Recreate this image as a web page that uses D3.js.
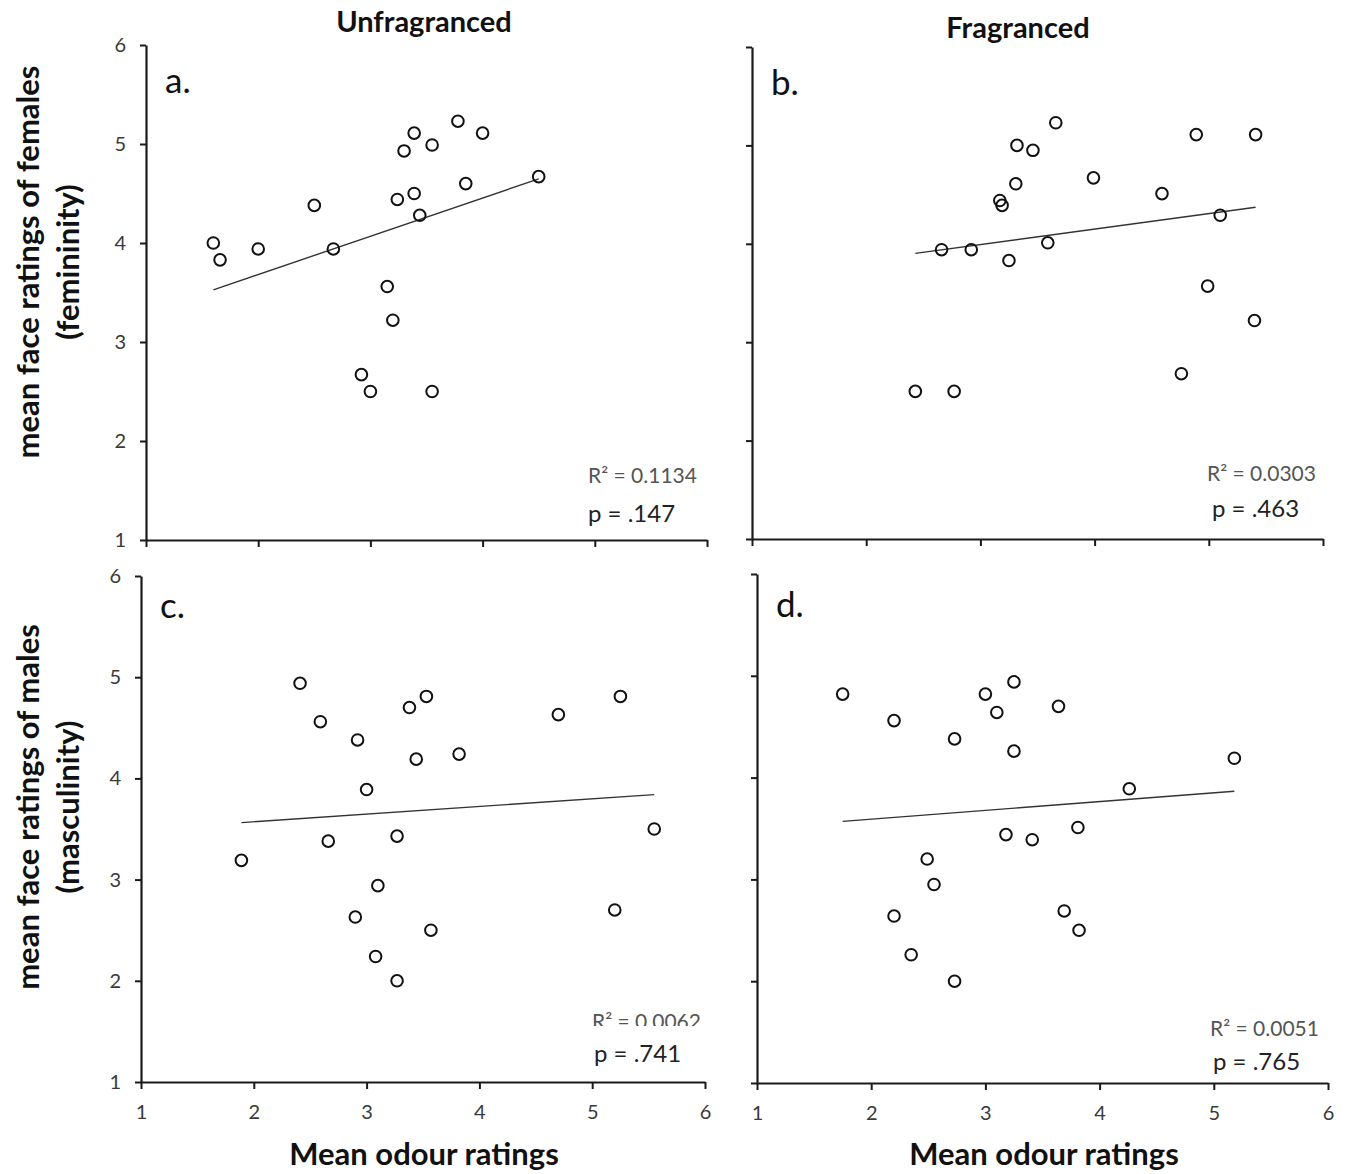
<!DOCTYPE html>
<html>
<head>
<meta charset="utf-8">
<script src="https://cdn.jsdelivr.net/npm/d3@7"></script>
<style>
  body { margin: 0; background: #fff; }
  svg { display: block; }
</style>
</head>
<body>
<svg id="chart" width="1347" height="1174"></svg>
<script>
// ---- Data: mean odour rating (x) and mean face rating (y) for each stimulus ----
// a. females, unfragranced
const odourFemaleUnfrag = [1.60, 1.66, 2.00, 2.50, 2.67, 3.15, 3.20, 2.92, 3.00, 3.55,
                           3.24, 3.39, 3.44, 3.30, 3.39, 3.55, 3.78, 4.00, 3.85, 4.50];
const faceFemaleUnfrag  = [4.00, 3.83, 3.94, 4.38, 3.94, 3.56, 3.22, 2.67, 2.50, 2.50,
                           4.44, 4.50, 4.28, 4.93, 5.11, 4.99, 5.23, 5.11, 4.60, 4.67];
// b. females, fragranced
const odourFemaleFrag = [2.43, 2.77, 2.66, 2.92, 3.25, 3.59, 3.17, 3.19, 3.31, 3.32,
                         3.46, 3.66, 3.99, 4.59, 4.76, 4.89, 4.99, 5.10, 5.40, 5.41];
const faceFemaleFrag  = [2.50, 2.50, 3.94, 3.94, 3.83, 4.01, 4.44, 4.39, 4.61, 5.00,
                         4.95, 5.23, 4.67, 4.51, 2.68, 5.11, 3.57, 4.29, 3.22, 5.11];
// c. males, unfragranced
const odourMaleUnfrag = [1.89, 2.41, 2.59, 2.66, 2.92, 3.00, 2.90, 3.10, 3.08, 3.27,
                         3.27, 3.38, 3.53, 3.44, 3.57, 3.82, 4.70, 5.25, 5.20, 5.55];
const faceMaleUnfrag  = [3.19, 4.94, 4.56, 3.38, 4.38, 3.89, 2.63, 2.94, 2.24, 2.00,
                         3.43, 4.70, 4.81, 4.19, 2.50, 4.24, 4.63, 4.81, 2.70, 3.50];
// d. males, fragranced
const odourMaleFrag = [1.75, 2.20, 2.73, 3.00, 3.10, 3.25, 3.25, 3.64, 5.18, 4.26,
                       3.18, 3.41, 3.81, 2.49, 2.55, 2.20, 2.35, 2.73, 3.69, 3.82];
const faceMaleFrag  = [4.82, 4.56, 4.38, 4.82, 4.64, 4.94, 4.26, 4.70, 4.19, 3.89,
                       3.44, 3.39, 3.51, 3.20, 2.95, 2.64, 2.26, 2.00, 2.69, 2.50];

// ---- Text ----
const tickValues = [1, 2, 3, 4, 5, 6];
const columnTitles = ["Unfragranced", "Fragranced"];
const rowTitles = [["mean face ratings of females", "(femininity)"],
                   ["mean face ratings of males", "(masculinity)"]];
const xAxisTitle = "Mean odour ratings";
const panelLetters = ["a.", "b.", "c.", "d."];
const rSquaredLabels = ["R\u00B2 = 0.1134", "R\u00B2 = 0.0303", "R\u00B2 = 0.0062", "R\u00B2 = 0.0051"];
const pLabels = ["p = .147", "p = .463", "p = .741", "p = .765"];

const seriesX = [odourFemaleUnfrag, odourFemaleFrag, odourMaleUnfrag, odourMaleFrag];
const seriesY = [faceFemaleUnfrag, faceFemaleFrag, faceMaleUnfrag, faceMaleFrag];

// ---- Layout of the four panels (pixel frame of each plot area) ----
const layout = [
  { left: 146, right: 707,  top: 45,  bottom: 540,  yLabels: true,  xLabels: false, letterDy: 48, r2Dy: -57, pDy: -18, r2Dx: -119, pDx: -119, clipR2: null },
  { left: 752, right: 1323, top: 47,  bottom: 539,  yLabels: false, xLabels: false, letterDy: 48, r2Dy: -58, pDy: -22, r2Dx: -116, pDx: -111, clipR2: null },
  { left: 141, right: 705,  top: 576, bottom: 1082, yLabels: true,  xLabels: true,  letterDy: 42, r2Dy: -53, pDy: -20, r2Dx: -113, pDx: -111, clipR2: 1026 },
  { left: 757, right: 1328, top: 574, bottom: 1083, yLabels: false, xLabels: true,  letterDy: 43, r2Dy: -47, pDy: -13, r2Dx: -118, pDx: -115, clipR2: null }
];

const FONT = "Lato, 'Open Sans', sans-serif";
const svg = d3.select("#chart");
const defs = svg.append("defs");

// ordinary least-squares line through a panel's points
function leastSquares(xs, ys) {
  const mx = d3.mean(xs), my = d3.mean(ys);
  let sxy = 0, sxx = 0;
  xs.forEach((x, i) => { sxy += (x - mx) * (ys[i] - my); sxx += (x - mx) * (x - mx); });
  const slope = sxy / sxx;
  return { slope, intercept: my - slope * mx };
}

layout.forEach((p, i) => {
  const x = d3.scaleLinear().domain([1, 6]).range([p.left, p.right]);
  const y = d3.scaleLinear().domain([1, 6]).range([p.bottom, p.top]);
  const g = svg.append("g");

  // axes
  const yAxis = d3.axisLeft(y).tickValues(tickValues).tickSize(6).tickSizeOuter(0).tickPadding(14)
    .tickFormat(p.yLabels ? d3.format("d") : () => "");
  const xAxis = d3.axisBottom(x).tickValues(tickValues).tickSize(7).tickSizeOuter(0).tickPadding(16)
    .tickFormat(p.xLabels ? d3.format("d") : () => "");

  const gy = g.append("g").attr("transform", `translate(${p.left},0)`).call(yAxis);
  const gx = g.append("g").attr("transform", `translate(0,${p.bottom})`).call(xAxis);
  [gx, gy].forEach(ax => {
    ax.select(".domain").attr("stroke", "#1a1a1a").attr("stroke-width", 2.2);
    ax.selectAll(".tick line").attr("stroke", "#1a1a1a").attr("stroke-width", 2);
    ax.selectAll(".tick text").attr("font-family", FONT).attr("font-size", 20).attr("fill", "#3a3a3a");
  });

  // regression line across the observed odour range
  const xs = seriesX[i], ys = seriesY[i];
  const fit = leastSquares(xs, ys);
  const [x0, x1] = d3.extent(xs);
  g.append("line")
    .attr("x1", x(x0)).attr("y1", y(fit.intercept + fit.slope * x0))
    .attr("x2", x(x1)).attr("y2", y(fit.intercept + fit.slope * x1))
    .attr("stroke", "#333").attr("stroke-width", 1.4);

  // open circle markers
  g.append("g").selectAll("circle")
    .data(xs.map((v, k) => [v, ys[k]]))
    .join("circle")
    .attr("cx", d => x(d[0])).attr("cy", d => y(d[1]))
    .attr("r", 5.8)
    .attr("fill", "none").attr("stroke", "#111").attr("stroke-width", 2);

  // panel letter
  g.append("text").attr("x", p.left + 19).attr("y", p.top + p.letterDy)
    .attr("font-family", FONT).attr("font-size", 35).attr("fill", "#111")
    .text(panelLetters[i]);

  // fit statistics
  const r2 = g.append("text").attr("x", p.right + p.r2Dx).attr("y", p.bottom + p.r2Dy)
    .attr("font-family", FONT).attr("font-size", 21).attr("fill", "#555")
    .text(rSquaredLabels[i]);
  if (p.clipR2) {
    const id = "clip-r2-" + i;
    defs.append("clipPath").attr("id", id).append("rect")
      .attr("x", p.left).attr("y", p.top).attr("width", p.right - p.left).attr("height", p.clipR2 - p.top);
    r2.attr("clip-path", `url(#${id})`);
  }
  g.append("text").attr("x", p.right + p.pDx).attr("y", p.bottom + p.pDy)
    .attr("font-family", FONT).attr("font-size", 24).attr("fill", "#222")
    .text(pLabels[i]);
});

// column titles
[[424, 32], [1018, 38]].forEach(([cx, cy], i) => {
  svg.append("text").attr("x", cx).attr("y", cy).attr("text-anchor", "middle")
    .attr("font-family", FONT).attr("font-weight", "bold").attr("font-size", 29).attr("fill", "#111")
    .text(columnTitles[i]);
});

// row titles (rotated, two lines)
[[262, 0], [807, 1]].forEach(([cy, r]) => {
  const t = svg.append("text").attr("transform", `translate(0,${cy}) rotate(-90)`)
    .attr("text-anchor", "middle").attr("font-family", FONT).attr("font-weight", "bold")
    .attr("font-size", 31).attr("fill", "#111");
  t.append("tspan").attr("x", 0).attr("y", 39).text(rowTitles[r][0]);
  t.append("tspan").attr("x", 0).attr("y", 79).text(rowTitles[r][1]);
});

// x-axis titles under the bottom row
[424, 1044].forEach(cx => {
  svg.append("text").attr("x", cx).attr("y", 1165).attr("text-anchor", "middle")
    .attr("font-family", FONT).attr("font-weight", "bold").attr("font-size", 31).attr("fill", "#111")
    .text(xAxisTitle);
});
</script>
</body>
</html>
